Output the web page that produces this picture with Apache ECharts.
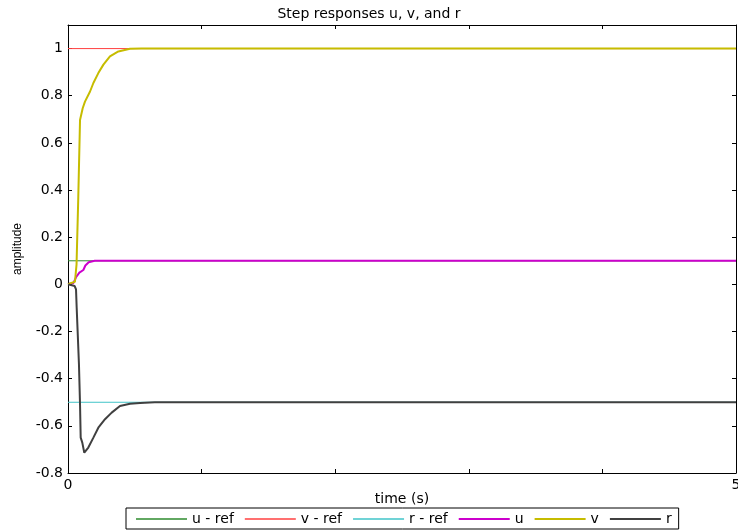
<!DOCTYPE html>
<html>
<head>
<meta charset="utf-8">
<script src="https://cdn.jsdelivr.net/npm/echarts@6/dist/echarts.min.js"></script>
<style>
html, body { margin: 0; padding: 0; background: #fff; }
#chart { width: 738px; height: 532px; }
</style>
</head>
<body>
<div id="chart"></div>
<script>
// step references (held over the whole run)
const refTime = [0, 5]
const uRef = [0.1, 0.1]
const vRef = [1, 1]
const rRef = [-0.5, -0.5]

// u response
const uTime = [0, 0.04, 0.06, 0.085, 0.095, 0.115, 0.13, 0.155, 0.2, 5]
const uVals = [0.002, 0.005, 0.03, 0.05, 0.055, 0.061, 0.08, 0.094, 0.1, 0.1]

// v response
const vTime = [0, 0.015, 0.052, 0.064, 0.077, 0.09, 0.1, 0.11, 0.127, 0.165, 0.19, 0.227, 0.265, 0.314, 0.377, 0.464, 0.55, 5]
const vVals = [0, 0.004, 0.011, 0.085, 0.37, 0.697, 0.704, 0.747, 0.775, 0.818, 0.854, 0.896, 0.932, 0.967, 0.988, 0.999, 1, 1]

// r response
const rTime = [0, 0.05, 0.06, 0.065, 0.072, 0.082, 0.09, 0.095, 0.107, 0.122, 0.132, 0.152, 0.19, 0.227, 0.277, 0.327, 0.389, 0.464, 0.539, 0.65, 5]
const rVals = [0, -0.007, -0.021, -0.099, -0.198, -0.339, -0.508, -0.65, -0.671, -0.714, -0.714, -0.692, -0.65, -0.608, -0.572, -0.544, -0.516, -0.506, -0.503, -0.5, -0.5]

const names = ['u - ref', 'v - ref', 'r - ref', 'u', 'v', 'r']
const colors = ['#2e8b2e', '#ff4040', '#40c4c8', '#cc00cc', '#c6bc00', '#404040']
const widths = [1, 1, 1, 2, 2, 2]

const FONT = 'DejaVu Sans'

const pairs = (t, y) => t.map((v, i) => [v, y[i]])

const lineSeries = (i, data) => ({
    name: names[i],
    type: 'line',
    data: data,
    symbol: 'none',
    color: colors[i],
    lineStyle: { color: colors[i], width: widths[i] },
    z: 2 + i
})

// legend keys drawn as plain line segments
const legendData = names.map((n, i) => ({
    name: n,
    icon: widths[i] > 1 ? 'path://M0,0L51,0L51,2L0,2Z' : 'path://M0,0L51,0L51,1.4L0,1.4Z',
    itemStyle: { color: colors[i] }
}))

const chart = echarts.init(document.getElementById('chart'), null, { renderer: 'canvas' })

const axisCommon = () => ({
    axisLine: { onZero: false, lineStyle: { color: '#000', width: 1 } },
    axisTick: { inside: true, length: 4, lineStyle: { color: '#000' } },
    splitLine: { show: false }
})

chart.setOption({
    animation: false,
    backgroundColor: '#fff',
    title: {
        text: 'Step responses u, v, and r',
        left: 'center',
        top: 7,
        padding: 0,
        textStyle: { fontFamily: FONT, fontSize: 14, fontWeight: 'normal', color: '#000' }
    },
    legend: {
        left: 126,
        top: 508,
        orient: 'horizontal',
        padding: [4, 7, 3, 10],
        itemWidth: 51,
        itemHeight: 13,
        itemGap: 11,
        symbolKeepAspect: true,
        borderColor: '#000',
        borderWidth: 1,
        borderRadius: 0,
        textStyle: { fontFamily: FONT, fontSize: 14, color: '#000' },
        data: legendData
    },
    grid: { left: 68, right: 2, top: 25, bottom: 59, containLabel: false, outerBoundsMode: 'none' },
    xAxis: [
        Object.assign(axisCommon(), {
            type: 'value', position: 'bottom', min: 0, max: 5, interval: 1,
            name: 'time (s)', nameLocation: 'middle', nameGap: 19, nameMoveOverlap: false,
            nameTextStyle: { fontFamily: FONT, fontSize: 14, color: '#000' },
            axisLabel: {
                margin: 5, fontFamily: FONT, fontSize: 14, color: '#000',
                formatter: v => (v === 0 || v === 5) ? String(v) : ''
            }
        }),
        Object.assign(axisCommon(), {
            type: 'value', position: 'top', min: 0, max: 5, interval: 1,
            axisLabel: { show: false }
        })
    ],
    yAxis: [
        Object.assign(axisCommon(), {
            type: 'value', position: 'left', min: -0.8, max: 1.1, interval: 0.2,
            name: 'amplitude', nameLocation: 'middle', nameGap: 44, nameRotate: 90, nameMoveOverlap: false,
            nameTextStyle: { fontFamily: 'Liberation Sans', fontSize: 12, color: '#000' },
            axisLabel: {
                margin: 5, fontFamily: FONT, fontSize: 14, color: '#000',
                formatter: v => Math.abs(v - 1.1) < 1e-6 ? '' : String(+v.toFixed(1))
            }
        }),
        Object.assign(axisCommon(), {
            type: 'value', position: 'right', min: -0.8, max: 1.1, interval: 0.2,
            axisLabel: { show: false }
        })
    ],
    series: names.map((n, i) => {
        const src = [
            pairs(refTime, uRef), pairs(refTime, vRef), pairs(refTime, rRef),
            pairs(uTime, uVals), pairs(vTime, vVals), pairs(rTime, rVals)
        ]
        return lineSeries(i, src[i])
    })
})
</script>
</body>
</html>
